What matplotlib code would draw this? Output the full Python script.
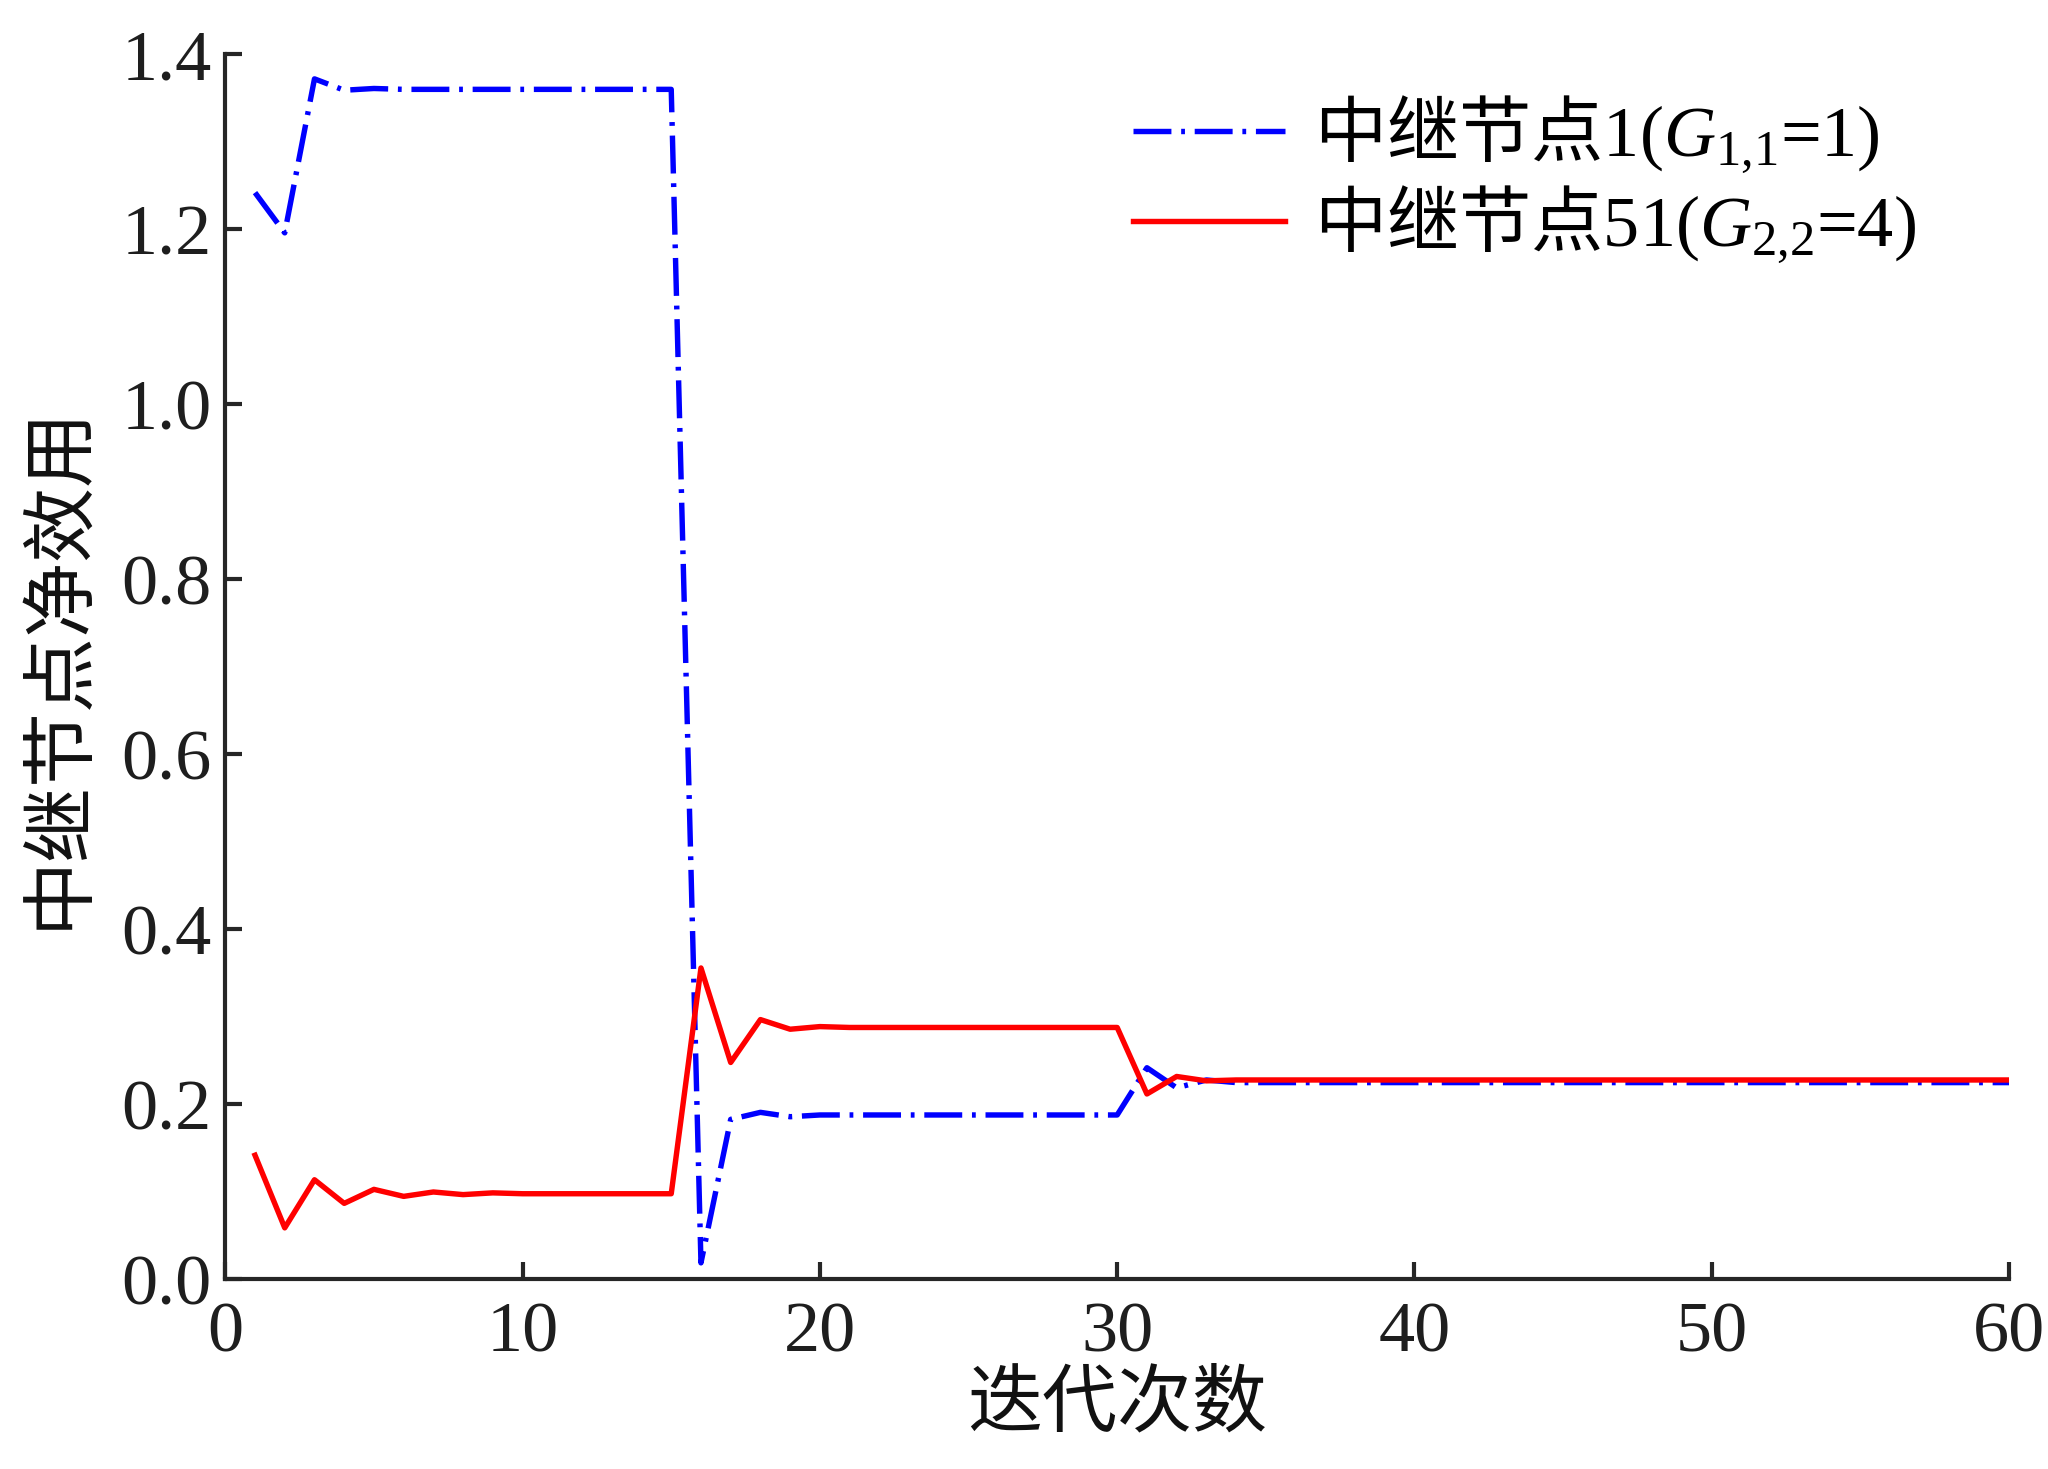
import numpy as np
import matplotlib
matplotlib.use('Agg')
import matplotlib.pyplot as plt

plt.rcParams['font.family'] = ['Liberation Serif', 'Noto Sans CJK SC']
plt.rcParams['mathtext.fontset'] = 'custom'
plt.rcParams['mathtext.rm'] = 'Noto Sans CJK SC'
plt.rcParams['mathtext.it'] = 'Liberation Serif:italic'

# iteration index
iters = np.arange(1, 61)

# relay node 1 (G11 = 1) net utility
node1 = [1.242, 1.196, 1.372, 1.359, 1.361, 1.360, 1.360, 1.360, 1.360, 1.360,
         1.360, 1.360, 1.360, 1.360, 1.360, 0.019, 0.183, 0.191, 0.186, 0.188,
         0.188, 0.188, 0.188, 0.188, 0.188, 0.188, 0.188, 0.188, 0.188, 0.188,
         0.242, 0.219, 0.228, 0.225, 0.225, 0.225, 0.225, 0.225, 0.225, 0.225,
         0.225, 0.225, 0.225, 0.225, 0.225, 0.225, 0.225, 0.225, 0.225, 0.225,
         0.225, 0.225, 0.225, 0.225, 0.225, 0.225, 0.225, 0.225, 0.225, 0.225]

# relay node 51 (G22 = 4) net utility
node51 = [0.142, 0.059, 0.114, 0.087, 0.103, 0.095, 0.100, 0.097, 0.099, 0.098,
          0.098, 0.098, 0.098, 0.098, 0.098, 0.356, 0.248, 0.297, 0.286, 0.289,
          0.288, 0.288, 0.288, 0.288, 0.288, 0.288, 0.288, 0.288, 0.288, 0.288,
          0.212, 0.232, 0.227, 0.228, 0.228, 0.228, 0.228, 0.228, 0.228, 0.228,
          0.228, 0.228, 0.228, 0.228, 0.228, 0.228, 0.228, 0.228, 0.228, 0.228,
          0.228, 0.228, 0.228, 0.228, 0.228, 0.228, 0.228, 0.228, 0.228, 0.228]

labels = [r'$\mathrm{中继节点}$1($G_{\mathregular{1{,}1}}$=1)',
          r'$\mathrm{中继节点}$51($G_{\mathregular{2{,}2}}$=4)']

fig = plt.figure(figsize=(20.48, 14.69), dpi=100)
ax = fig.add_axes([0.110, 0.129, 0.871, 0.834])

ax.plot(iters, node1, color='#0000FF', lw=3.9, dashes=(7, 1.8, 0.7, 1.8), label=labels[0])
ax.plot(iters, node51, color='#FF0000', lw=3.9, label=labels[1])

ax.set_xlim(0, 60)
ax.set_ylim(0, 1.4)
ax.set_xticks(np.arange(0, 61, 10))
ax.set_yticks(np.arange(0, 1.41, 0.2))
ax.set_yticklabels(['%.1f' % v for v in np.arange(0, 1.41, 0.2)])

for s in ['top', 'right']:
    ax.spines[s].set_visible(False)
for s in ['left', 'bottom']:
    ax.spines[s].set_linewidth(3)
    ax.spines[s].set_color('#262626')

ax.tick_params(direction='in', length=12, width=3, color='#262626',
               labelsize=52, labelcolor='#1e1e1e')
ax.tick_params(axis='y', pad=10)
ax.tick_params(axis='x', pad=16)

ax.set_xlabel('迭代次数', family='Noto Sans CJK SC', fontsize=54, color='#111111', labelpad=-1)
ax.set_ylabel('中继节点净效用', family='Noto Sans CJK SC', fontsize=54, color='#111111', labelpad=18)

ax.legend(loc='upper left', bbox_to_anchor=(0.509, 0.968), frameon=False,
          fontsize=52, handlelength=2.1, handletextpad=0.4, labelspacing=0.1,
          borderpad=0, borderaxespad=0)

fig.savefig('out.png', dpi=100)
